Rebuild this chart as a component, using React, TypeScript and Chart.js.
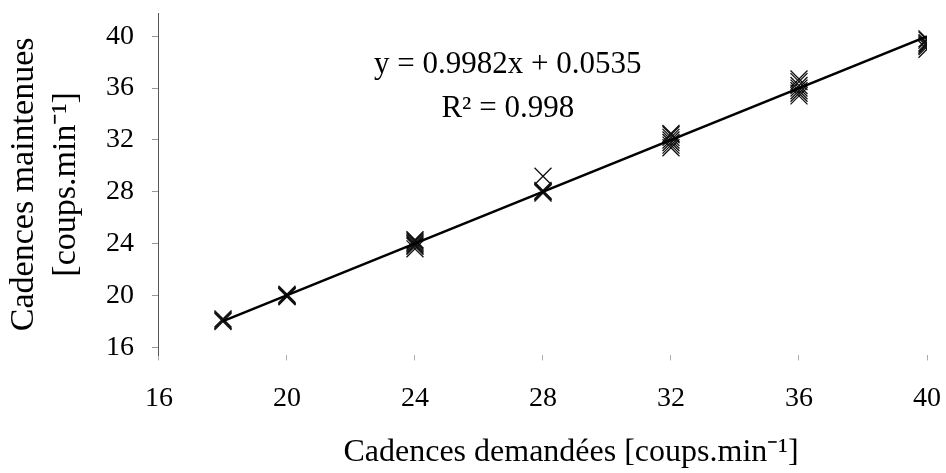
import React, { useEffect, useRef } from "react";
import { Chart, registerables } from "chart.js";

Chart.register(...registerables);

const xTicks = [16, 20, 24, 28, 32, 36, 40];
const yTicks = [16, 20, 24, 28, 32, 36, 40];

const pointsX = [
  18, 18, 18, 18,
  20, 20, 20, 20, 20,
  24, 24, 24, 24, 24, 24, 24,
  28, 28, 28, 28, 28,
  32, 32, 32, 32, 32, 32, 32,
  36, 36, 36, 36, 36, 36, 36,
  40, 40, 40, 40, 40, 40, 40,
];
const pointsY = [
  18.0, 18.1, 18.2, 18.1,
  19.9, 20.0, 20.1, 20.0, 19.95,
  23.6, 23.8, 24.0, 24.1, 24.2, 24.3, 23.9,
  27.9, 28.0, 28.1, 28.0, 29.2,
  31.4, 31.6, 31.8, 32.0, 32.2, 32.4, 32.5,
  35.4, 35.6, 35.8, 36.0, 36.2, 36.5, 36.7,
  39.0, 39.2, 39.3, 39.4, 39.5, 39.7, 39.8,
];

const trendX = [18, 40];
const trendY = [18.02, 39.98];

const equationLines = ["y = 0.9982x + 0.0535", "R² = 0.998"];
const equationX = 26.9;
const equationY = [37.77, 34.4];

const FONT = "'Liberation Serif', 'Times New Roman', serif";

export default function App() {
  const ref = useRef<HTMLCanvasElement | null>(null);

  useEffect(() => {
    if (!ref.current) return;
    const eqPlugin = {
      id: "eqText",
      afterDatasetsDraw(chart: any) {
        const { ctx, scales } = chart;
        ctx.save();
        ctx.fillStyle = "#000";
        ctx.font = `31px ${FONT}`;
        ctx.textAlign = "center";
        ctx.textBaseline = "middle";
        equationLines.forEach((t, i) => {
          ctx.fillText(
            t,
            scales.x.getPixelForValue(equationX),
            scales.y.getPixelForValue(equationY[i])
          );
        });
        ctx.restore();
      },
    };

    const chart = new Chart(ref.current, {
      type: "scatter",
      data: {
        datasets: [
          {
            type: "line",
            data: trendX.map((x, i) => ({ x, y: trendY[i] })),
            borderColor: "#000",
            borderWidth: 2.5,
            pointRadius: 0,
            fill: false,
          } as any,
          {
            data: pointsX.map((x, i) => ({ x, y: pointsY[i] })),
            pointStyle: "crossRot",
            pointRadius: 12,
            borderColor: "#111",
            backgroundColor: "#111",
            pointBorderWidth: 1.3,
          } as any,
        ],
      },
      options: {
        animation: false,
        responsive: true,
        maintainAspectRatio: false,
        layout: { padding: { top: 12, right: 19, left: 0, bottom: 0 } },
        plugins: {
          legend: { display: false },
          tooltip: { enabled: false },
        },
        scales: {
          x: {
            type: "linear",
            min: 16,
            max: 40,
            afterBuildTicks: (scale: any) => {
              scale.ticks = xTicks.map((v) => ({ value: v }));
            },
            afterFit: (scale: any) => {
              scale.paddingLeft = 0;
              scale.paddingRight = 0;
            },
            border: { display: false },
            grid: {
              drawOnChartArea: false,
              drawTicks: true,
              tickLength: 5,
              color: "#aaa",
            },
            ticks: {
              color: "#000",
              font: { family: FONT, size: 28 },
              padding: 21,
              maxRotation: 0,
            },
            title: {
              display: true,
              text: "       Cadences demandées [coups.min⁻¹]",
              color: "#000",
              font: { family: FONT, size: 32, lineHeight: 1.0 },
              padding: { top: 1, bottom: 4 },
            },
          },
          y: {
            type: "linear",
            min: 15.38,
            max: 41.77,
            afterBuildTicks: (scale: any) => {
              scale.ticks = yTicks.map((v) => ({ value: v }));
            },
            afterFit: (scale: any) => {
              scale.paddingTop = 0;
              scale.paddingBottom = 0;
            },
            border: { display: true, color: "#555", width: 1 },
            grid: {
              drawOnChartArea: false,
              drawTicks: true,
              tickLength: 7,
              color: "#999",
            },
            ticks: {
              color: "#000",
              font: { family: FONT, size: 28 },
              padding: 18,
            },
            title: {
              display: true,
              text: ["Cadences maintenues", "[coups.min⁻¹]"],
              color: "#000",
              font: { family: FONT, size: 34, lineHeight: 1.235 },
              padding: { top: 3, bottom: 1 },
            },
          },
        },
      },
      plugins: [eqPlugin],
    } as any);
    return () => chart.destroy();
  }, []);

  return (
    <div
      style={{
        position: "absolute",
        left: 0,
        top: 0,
        width: 946,
        height: 473,
      }}
    >
      <canvas ref={ref} />
    </div>
  );
}
